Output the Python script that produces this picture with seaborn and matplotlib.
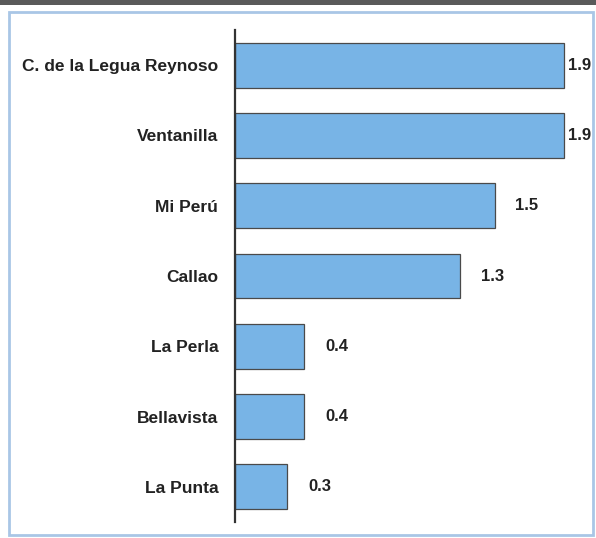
import matplotlib
matplotlib.use("Agg")
import matplotlib.pyplot as plt
import seaborn as sns
import pandas as pd
from matplotlib.patches import Rectangle

categories = ["C. de la Legua Reynoso", "Ventanilla", "Mi Perú", "Callao",
              "La Perla", "Bellavista", "La Punta"]
values = [1.9, 1.9, 1.5, 1.3, 0.4, 0.4, 0.3]
value_labels = ["1.9", "1.9", "1.5", "1.3", "0.4", "0.4", "0.3"]

df = pd.DataFrame({"cat": categories, "val": values})

sns.set_theme(style="white")
plt.rcParams['font.family'] = ['Liberation Sans', 'DejaVu Sans']

W, H = 596, 538
fig = plt.figure(figsize=(W / 100, H / 100), dpi=100)
fig.patch.set_facecolor("white")

# frame decorations
fig.add_artist(Rectangle((0, 1 - 5 / H), 1, 5 / H, transform=fig.transFigure,
                         facecolor="#5a5a5a", edgecolor="none"))
fig.add_artist(Rectangle((9 / W, 3 / H), 584 / W, (H - 15) / H, transform=fig.transFigure,
                         facecolor="none", edgecolor="#a9c6e6", linewidth=2))

ax = fig.add_axes([235 / W, 16 / H, 346 / W, 492 / H])
sns.barplot(data=df, y="cat", x="val", orient="h", ax=ax, color="#78b4e6",
            saturation=1, width=0.64, edgecolor="#4a4a4a", linewidth=0.9)
ax.set_xlim(0, 2.0)
ax.set_ylim(6.5, -0.5)
ax.set_xlabel("")
ax.set_ylabel("")
ax.set_xticks([])
for s in ["top", "right", "bottom"]:
    ax.spines[s].set_visible(False)
ax.spines["left"].set_color("#333333")
ax.spines["left"].set_linewidth(1.6)
ax.tick_params(axis="y", length=0, pad=12)
for lab in ax.get_yticklabels():
    lab.set_fontweight("bold")
    lab.set_fontsize(12.5)
    lab.set_color("#222222")

vmax = max(values)
for i, (v, t) in enumerate(zip(values, value_labels)):
    off = 4 if v >= vmax else 21
    ax.annotate(t, xy=(v, i), xytext=(off, 0), textcoords="offset pixels",
                ha="left", va="center", fontsize=12, fontweight="bold",
                color="#222222", annotation_clip=False)

fig.savefig("out.png", dpi=100)
